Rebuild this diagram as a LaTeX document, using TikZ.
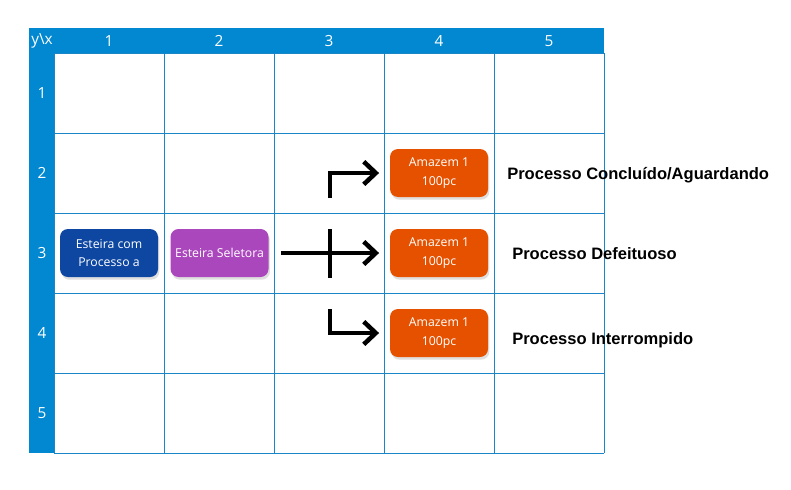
\documentclass[tikz,border=0pt]{standalone}
\usepackage{fontspec}
\setmainfont{Open Sans}
\newfontfamily\labelfont{Liberation Sans}
\usetikzlibrary{positioning,shadows,arrows.meta}
\definecolor{HEAD_COLOR}{HTML}{0288D1}
\definecolor{GRID_COLOR}{HTML}{1A86C8}
\definecolor{ESTEIRA_COLOR}{HTML}{0D47A1}
\definecolor{SELETORA_COLOR}{HTML}{AB47BC}
\definecolor{AMAZEM_COLOR}{HTML}{E65100}
\tikzstyle{head}=[text=white, font=\fontsize{11.5}{13}\selectfont]
\tikzstyle{caixa}=[rectangle, rounded corners=6pt, minimum width=73.5pt, minimum height=36pt, text=white, align=center, font=\fontsize{9.2}{14}\selectfont, drop shadow={opacity=0.25, shadow xshift=1pt, shadow yshift=-2pt}]
\tikzstyle{ESTEIRA}=[caixa, fill=ESTEIRA_COLOR]
\tikzstyle{SELETORA}=[caixa, fill=SELETORA_COLOR]
\tikzstyle{AMAZEM}=[caixa, fill=AMAZEM_COLOR]
\tikzstyle{estado}=[anchor=west, inner sep=0pt, font=\labelfont\bfseries\fontsize{12.4}{14}\selectfont]
\tikzstyle{linha}=[line width=3.4pt, black]
\tikzstyle{seta}=[linha, -{Straight Barb[length=9pt, width=17pt]}, shorten >=8pt]

\begin{document}
\begin{tikzpicture}[x=0.75pt, y=-0.75pt, node distance=60pt and 9pt]
      \useasboundingbox (0,0) rectangle (791,489);

      %%%%%%%%%%%%%%%%%%%%%%%%%%%%%%%%%%%%%%%%%%%%%%%%%
      % GRID
      %%%%%%%%%%%%%%%%%%%%%%%%%%%%%%%%%%%%%%%%%%%%%%%%%
      \fill[HEAD_COLOR] (29,28) rectangle (604,53);
      \fill[HEAD_COLOR] (29,53) rectangle (54,453);
      \foreach \x in {54,164,...,604}
        \draw[GRID_COLOR, line width=0.75pt] (\x,53) -- (\x,453);
      \foreach \y in {53,133,...,453}
        \draw[GRID_COLOR, line width=0.75pt] (54,\y) -- (604,\y);

      \node[head] (yx) at (42,41) {y\textbackslash x};
      \foreach \n in {1,...,5}{
        \node[head] (hx\n) at (-1+110*\n,41) {\n};
        \node[head] (hy\n) at (42,13+80*\n) {\n};
      }

      %%%%%%%%%%%%%%%%%%%%%%%%%%%%%%%%%%%%%%%%%%%%%%%%%
      % ESTEIRAS
      %%%%%%%%%%%%%%%%%%%%%%%%%%%%%%%%%%%%%%%%%%%%%%%%%
      \node[ESTEIRA] (esteira) at (109,253) {Esteira com\\Processo a};
      \node[SELETORA, right=of esteira] (seletora) {Esteira Seletora};

      % amazens
      \node[AMAZEM] (amz3) at (439,253) {Amazem 1\\100pc};
      \node[AMAZEM, above=of amz3.center, anchor=center] (amz2) {Amazem 1\\100pc};
      \node[AMAZEM, below=of amz3.center, anchor=center] (amz4) {Amazem 1\\100pc};

      \node[estado] (lbl2) at (507,175) {Processo Concluído/Aguardando};
      \node[estado] (lbl3) at (512,254) {Processo Defeituoso};
      \node[estado] (lbl4) at (512,340) {Processo Interrompido};

      %%%%%%%%%%%%%%%%%%%%%%%%%%%%%%%%%%%%%%%%%%%%%%%%%
      % SETAS
      %%%%%%%%%%%%%%%%%%%%%%%%%%%%%%%%%%%%%%%%%%%%%%%%%
      \coordinate (cruzA) at (330,229);
      \coordinate (cruzB) at (330,278);
      \coordinate (ramoA) at (330,198);
      \coordinate (ramoB) at (330,309);

      \draw[seta, shorten <=9pt] (seletora.east) -- (amz3.west);
      \draw[linha] (cruzA) -- (cruzB);
      \draw[seta] (ramoA) |- (amz2.west);
      \draw[seta] (ramoB) |- (amz4.west);
\end{tikzpicture}
\end{document}
